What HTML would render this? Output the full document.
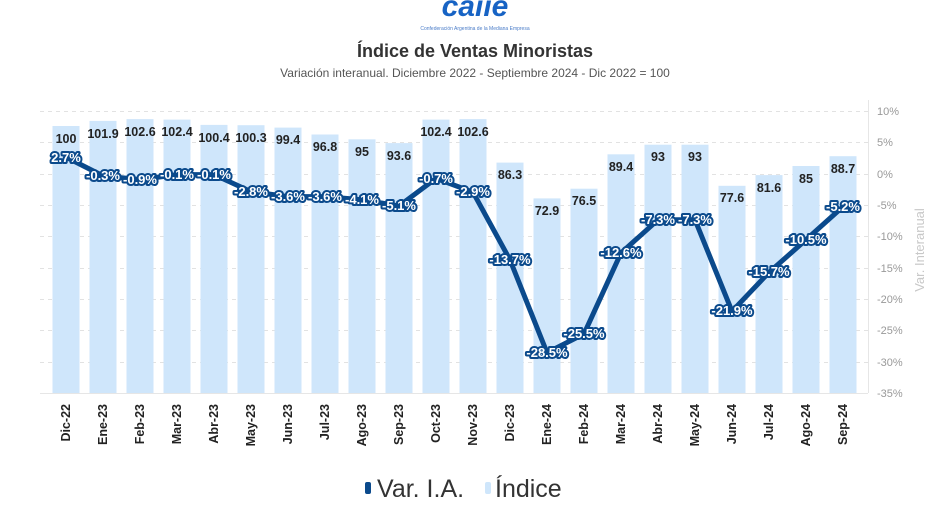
<!DOCTYPE html>
<html><head><meta charset="utf-8"><style>
html,body{margin:0;padding:0;background:#fff;}
svg{display:block;font-family:"Liberation Sans",sans-serif;}
.il{font-size:12.5px;font-weight:bold;fill:#222;text-anchor:middle;}
.pl{font-size:13px;font-weight:bold;fill:#fff;text-anchor:middle;stroke:#0b4a8c;stroke-width:4;paint-order:stroke;stroke-linejoin:round;}
.xl{font-size:12.5px;font-weight:bold;fill:#222;text-anchor:end;}
.yl{font-size:11px;fill:#999;}
.g{stroke:#e2e2e2;stroke-dasharray:4,4;stroke-width:1;}
</style></head><body>
<svg width="950" height="518" viewBox="0 0 950 518">
<text x="475" y="16" text-anchor="middle" font-size="30" font-weight="900" fill="#1763c4" font-style="italic">caiie</text>
<text x="475" y="30" text-anchor="middle" font-size="5" fill="#4a7cc8">Confederación Argentina de la Mediana Empresa</text>
<text x="475" y="57" text-anchor="middle" font-size="18" font-weight="bold" fill="#333">Índice de Ventas Minoristas</text>
<text x="475" y="77" text-anchor="middle" font-size="12" fill="#555">Variación interanual. Diciembre 2022 - Septiembre 2024 - Dic 2022 = 100</text>
<g class="g">
<line x1="40" y1="111.5" x2="868" y2="111.5"/>
<line x1="40" y1="142.5" x2="868" y2="142.5"/>
<line x1="40" y1="174.5" x2="868" y2="174.5"/>
<line x1="40" y1="205.5" x2="868" y2="205.5"/>
<line x1="40" y1="236.5" x2="868" y2="236.5"/>
<line x1="40" y1="268.5" x2="868" y2="268.5"/>
<line x1="40" y1="299.5" x2="868" y2="299.5"/>
<line x1="40" y1="330.5" x2="868" y2="330.5"/>
<line x1="40" y1="362.5" x2="868" y2="362.5"/>
</g>
<line x1="868.5" y1="100" x2="868.5" y2="393" stroke="#e6e6e6"/>
<line x1="40" y1="393.5" x2="868" y2="393.5" stroke="#e6e6e6"/>
<g class="yl">
<text x="877" y="115">10%</text><text x="877" y="146">5%</text><text x="877" y="178">0%</text>
<text x="877" y="209">-5%</text><text x="877" y="240">-10%</text><text x="877" y="272">-15%</text>
<text x="877" y="303">-20%</text><text x="877" y="334">-25%</text><text x="877" y="366">-30%</text>
<text x="877" y="397">-35%</text>
</g>
<text transform="translate(924,250) rotate(-90)" text-anchor="middle" font-size="13" fill="#c8c8c8">Var. Interanual</text>
<g fill="#cfe6fb">
<rect x="52.5" y="126" width="27" height="267"/>
<rect x="89.5" y="120.9" width="27" height="272.1"/>
<rect x="126.5" y="119.1" width="27" height="273.9"/>
<rect x="163.5" y="119.6" width="27" height="273.4"/>
<rect x="200.5" y="124.9" width="27" height="268.1"/>
<rect x="237.5" y="125.2" width="27" height="267.8"/>
<rect x="274.5" y="127.6" width="27" height="265.4"/>
<rect x="311.5" y="134.5" width="27" height="258.5"/>
<rect x="348.5" y="139.3" width="27" height="253.7"/>
<rect x="385.5" y="143.1" width="27" height="249.9"/>
<rect x="422.5" y="119.6" width="27" height="273.4"/>
<rect x="459.5" y="119.1" width="27" height="273.9"/>
<rect x="496.5" y="162.6" width="27" height="230.4"/>
<rect x="533.5" y="198.4" width="27" height="194.6"/>
<rect x="570.5" y="188.7" width="27" height="204.3"/>
<rect x="607.5" y="154.3" width="27" height="238.7"/>
<rect x="644.5" y="144.7" width="27" height="248.3"/>
<rect x="681.5" y="144.7" width="27" height="248.3"/>
<rect x="718.5" y="185.8" width="27" height="207.2"/>
<rect x="755.5" y="175.1" width="27" height="217.9"/>
<rect x="792.5" y="166" width="27" height="227"/>
<rect x="829.5" y="156.2" width="27" height="236.8"/>
</g>
<g class="il">
<text x="66" y="143">100</text><text x="103" y="138">101.9</text><text x="140" y="136">102.6</text>
<text x="177" y="136">102.4</text><text x="214" y="142">100.4</text><text x="251" y="142">100.3</text>
<text x="288" y="144">99.4</text><text x="325" y="151">96.8</text><text x="362" y="156">95</text>
<text x="399" y="160">93.6</text><text x="436" y="136">102.4</text><text x="473" y="136">102.6</text>
<text x="510" y="179">86.3</text><text x="547" y="215">72.9</text><text x="584" y="205">76.5</text>
<text x="621" y="171">89.4</text><text x="658" y="161">93</text><text x="695" y="161">93</text>
<text x="732" y="202">77.6</text><text x="769" y="192">81.6</text><text x="806" y="183">85</text>
<text x="843" y="173">88.7</text>
</g>
<polyline fill="none" stroke="#0b4a8c" stroke-width="5" stroke-linejoin="round" points="66,157.1 103,175.9 140,179.6 177,174.6 214,174.6 251,191.6 288,196.6 325,196.6 362,199.7 399,206 436,178.4 473,192.2 510,259.9 547,352.7 584,333.9 621,253 658,219.8 695,219.8 732,311.3 769,272.4 806,239.8 843,206.6"/>
<g class="pl">
<text x="66" y="162">2.7%</text><text x="103" y="180">-0.3%</text><text x="140" y="184">-0.9%</text>
<text x="177" y="179">-0.1%</text><text x="214" y="179">-0.1%</text><text x="251" y="196">-2.8%</text>
<text x="288" y="201">-3.6%</text><text x="325" y="201">-3.6%</text><text x="362" y="204">-4.1%</text>
<text x="399" y="210">-5.1%</text><text x="436" y="183">-0.7%</text><text x="473" y="196">-2.9%</text>
<text x="510" y="264">-13.7%</text><text x="547" y="357">-28.5%</text><text x="584" y="338">-25.5%</text>
<text x="621" y="257">-12.6%</text><text x="658" y="224">-7.3%</text><text x="695" y="224">-7.3%</text>
<text x="732" y="315">-21.9%</text><text x="769" y="276">-15.7%</text><text x="806" y="244">-10.5%</text>
<text x="843" y="211">-5.2%</text>
</g>
<g class="xl">
<text transform="translate(70,404) rotate(-90)">Dic-22</text>
<text transform="translate(107,404) rotate(-90)">Ene-23</text>
<text transform="translate(144,404) rotate(-90)">Feb-23</text>
<text transform="translate(181,404) rotate(-90)">Mar-23</text>
<text transform="translate(218,404) rotate(-90)">Abr-23</text>
<text transform="translate(255,404) rotate(-90)">May-23</text>
<text transform="translate(292,404) rotate(-90)">Jun-23</text>
<text transform="translate(329,404) rotate(-90)">Jul-23</text>
<text transform="translate(366,404) rotate(-90)">Ago-23</text>
<text transform="translate(403,404) rotate(-90)">Sep-23</text>
<text transform="translate(440,404) rotate(-90)">Oct-23</text>
<text transform="translate(477,404) rotate(-90)">Nov-23</text>
<text transform="translate(514,404) rotate(-90)">Dic-23</text>
<text transform="translate(551,404) rotate(-90)">Ene-24</text>
<text transform="translate(588,404) rotate(-90)">Feb-24</text>
<text transform="translate(625,404) rotate(-90)">Mar-24</text>
<text transform="translate(662,404) rotate(-90)">Abr-24</text>
<text transform="translate(699,404) rotate(-90)">May-24</text>
<text transform="translate(736,404) rotate(-90)">Jun-24</text>
<text transform="translate(773,404) rotate(-90)">Jul-24</text>
<text transform="translate(810,404) rotate(-90)">Ago-24</text>
<text transform="translate(847,404) rotate(-90)">Sep-24</text>
</g>
<rect x="365" y="482" width="6" height="12" rx="2" fill="#0b4a8c"/>
<text x="377" y="497" font-size="25" fill="#333">Var. I.A.</text>
<rect x="485" y="482" width="6" height="12" rx="2" fill="#cfe6fb"/>
<text x="495" y="497" font-size="25" fill="#333">Índice</text>
</svg>
</body></html>
